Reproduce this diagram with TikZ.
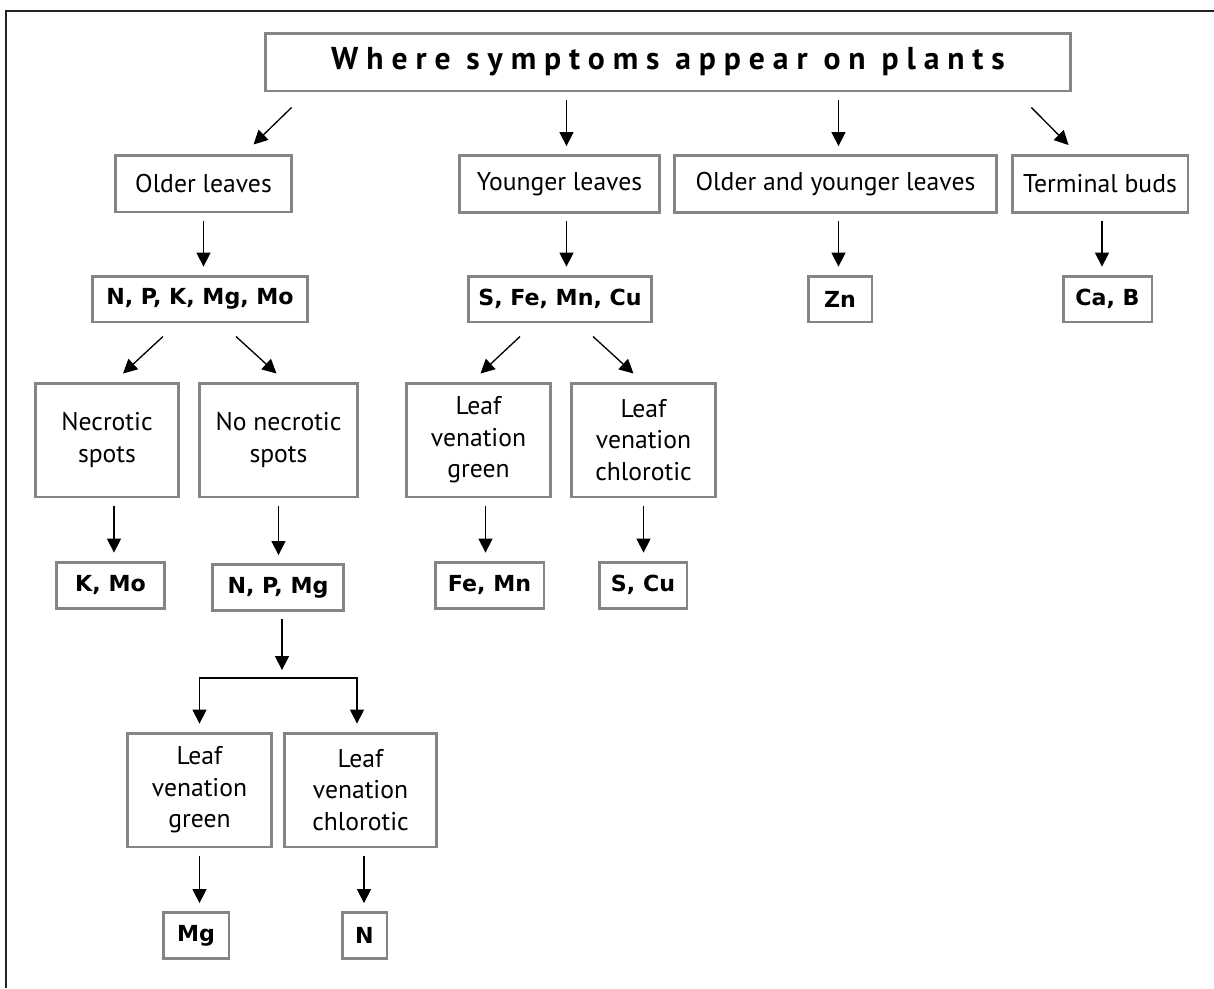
\documentclass[tikz,border=0pt]{standalone}
\usepackage{fontspec}
\setmainfont{PT Sans}
\newfontfamily\elemfont{DejaVu Sans}
\newfontfamily\titlefont[LetterSpace=25]{PT Sans}
\usetikzlibrary{arrows.meta,calc}

\definecolor{boxgray}{HTML}{858585}
\definecolor{framegray}{HTML}{222222}

\tikzset{
  box/.style={draw=boxgray, line width=1.7pt, fill=white, inner sep=0pt,
    align=center, font=\fontsize{14.6}{18}\selectfont, minimum height=1.14cm},
  tallbox/.style={box, minimum height=2.28cm},
  elembox/.style={box, minimum height=0.92cm,
    font=\elemfont\bfseries\fontsize{12.6}{14}\selectfont},
  arr/.style={-{Triangle[width=8pt,length=8pt]}, line width=0.75pt},
  varr/.style={arr, shorten <=4pt, shorten >=4.5pt},
  frame/.style={draw=framegray, line width=1.1pt}
}

\begin{document}
\begin{tikzpicture}[x=0.02cm,y=-0.02cm]
\useasboundingbox (0,0) rectangle (1214,988);
% Frame
\draw[frame] (6,988) -- (6,11) -- (1214,11);

% Title
\node[box, minimum width=16.12cm, minimum height=1.16cm,
  font=\titlefont\bfseries\fontsize{18}{20}\selectfont] (title) at (668,62) {Where symptoms appear on plants};

% Where on the plant
\node[box, minimum width=3.54cm] (older) at (203.5,183.5) {Older leaves};
\node[box, minimum width=4.02cm] (younger) at (559.5,184) {Younger leaves};
\node[box, minimum width=6.46cm] (both) at (835.5,184) {Older and younger leaves};
\node[box, minimum width=3.52cm] (buds) at (1100,184) {Terminal buds};

% Nutrient groups
\node[elembox, minimum width=4.32cm] (npk) at (200,299) {N, P, K, Mg, Mo};
\node[elembox, minimum width=3.68cm] (sfe) at (560,299) {S, Fe, Mn, Cu};
\node[elembox, minimum width=1.28cm] (zn) at (840,299) {Zn};
\node[elembox, minimum width=1.78cm] (cab) at (1107.5,299) {Ca, B};

% Symptoms
\node[tallbox, minimum width=2.88cm] (necr) at (107,440) {Necrotic\\spots};
\node[tallbox, minimum width=3.18cm] (nonecr) at (278.5,440) {No necrotic\\spots};
\node[tallbox, minimum width=2.90cm] (vgreen) at (478.5,440) {Leaf\\venation\\green};
\node[tallbox, minimum width=2.90cm] (vchlor) at (643.5,440) {Leaf\\venation\\chlorotic};

\node[elembox, minimum width=2.18cm] (kmo) at (110.5,585) {K, Mo};
\node[elembox, minimum width=2.64cm] (npmg) at (278,587.5) {N, P, Mg};
\node[elembox, minimum width=2.18cm] (femn) at (489.5,585) {Fe, Mn};
\node[elembox, minimum width=1.76cm] (scu) at (643,585) {S, Cu};

% Last split
\node[tallbox, minimum width=2.90cm] (lgreen) at (199.5,790) {Leaf\\venation\\green};
\node[tallbox, minimum width=3.06cm] (lchlor) at (360.5,790) {Leaf\\venation\\chlorotic};

\node[elembox, minimum width=1.32cm] (mg) at (196,935.5) {Mg};
\node[elembox, minimum width=0.90cm] (n) at (364.5,935.5) {N};

% Arrows from the title
\draw[arr] ($(title.south west)+(28,15)$) -- ($(older.north east)+(-40,-9)$);
\draw[varr] ($(title.south -| younger)+(7,0)$) -- ($(younger.north)+(7,0)$);
\draw[varr] ($(title.south -| both)+(3,0)$) -- ($(both.north)+(3,0)$);
\draw[arr] ($(title.south east)+(-41,15)$) -- ($(buds.north west)+(58,-9)$);

\draw[varr] (older.south) -- (older.south |- npk.north);
\draw[varr] ($(younger.south)+(7,0)$) -- ($(younger.south |- sfe.north)+(7,0)$);
\draw[varr] ($(both.south)+(3,0)$) -- ($(both.south |- zn.north)+(3,0)$);
\draw[varr] ($(buds.south)+(2,0)$) -- ($(buds.south |- cab.north)+(2,0)$);

% Diagonal splits
\draw[arr] ($(npk.south)+(-37,13)$) -- ($(necr.north)+(16,-8)$);
\draw[arr] ($(npk.south)+(36,13)$) -- ($(nonecr.north)+(-2,-8)$);
\draw[arr] ($(sfe.south)+(-40,13)$) -- ($(vgreen.north)+(2,-8)$);
\draw[arr] ($(sfe.south)+(33,13)$) -- ($(vchlor.north)+(-10,-8)$);

\draw[varr] ($(necr.south)+(7,0)$) -- ($(necr.south |- kmo.north)+(7,0)$);
\draw[varr] (nonecr.south) -- (nonecr.south |- npmg.north);
\draw[varr] ($(vgreen.south)+(7,0)$) -- ($(vgreen.south |- femn.north)+(7,0)$);
\draw[varr] (vchlor.south) -- (vchlor.south |- scu.north);

% Fork under N, P, Mg
\coordinate (fork) at ($(npmg.south)+(4,66)$);
\draw[varr] ($(npmg.south)+(4,0)$) -- (fork);
\draw[{Triangle[width=8pt,length=8pt]}-{Triangle[width=8pt,length=8pt]},
  line width=0.75pt, shorten <=4.5pt, shorten >=4.5pt]
  (lgreen.north) -- (fork -| lgreen) -- ($(fork -| lchlor)+(-3.5,0)$) -- ($(lchlor.north)+(-3.5,0)$);

\draw[varr] (lgreen.south) -- (lgreen.south |- mg.north);
\draw[varr] ($(lchlor.south)+(3.5,0)$) -- ($(lchlor.south |- n.north)+(3.5,0)$);
\end{tikzpicture}
\end{document}
